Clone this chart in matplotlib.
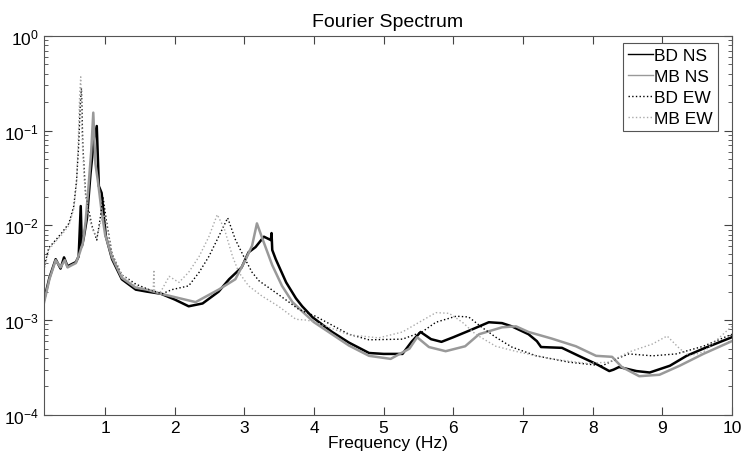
import numpy as np
import matplotlib
matplotlib.use('Agg')
import matplotlib.pyplot as plt
from matplotlib.ticker import LogLocator, FixedLocator

plt.rcParams['font.family'] = ['Liberation Sans', 'DejaVu Sans']

# values
f_bd_ns = [0.12, 0.2, 0.29, 0.36, 0.41, 0.46, 0.52, 0.58, 0.62, 0.65, 0.665, 0.69, 0.74, 0.79,
           0.84, 0.88, 0.91, 0.95, 1.01, 1.1, 1.24, 1.44, 1.6, 1.8, 2.0, 2.2, 2.4, 2.63, 2.78,
           2.96, 3.06, 3.16, 3.28, 3.38, 3.39, 3.4, 3.45, 3.6, 3.74, 3.83, 3.98, 4.26, 4.5,
           4.79, 5.0, 5.27, 5.4, 5.53, 5.68, 5.83, 6.0, 6.22, 6.51, 6.7, 6.84, 7.08, 7.2, 7.26,
           7.56, 7.8, 8.05, 8.24, 8.3, 8.38, 8.63, 8.82, 9.11, 9.35, 9.59, 10.0]
v_bd_ns = [1.6e-3, 2.8e-3, 4.4e-3, 3.5e-3, 4.6e-3, 3.7e-3, 3.9e-3, 4.1e-3, 4.7e-3, 1.6e-2,
           6e-3, 7.2e-3, 1.2e-2, 3.5e-2, 8e-2, 0.112, 2.6e-2, 2.2e-2, 7.7e-3, 4.4e-3, 2.7e-3,
           2.1e-3, 2.0e-3, 1.9e-3, 1.65e-3, 1.4e-3, 1.5e-3, 2.0e-3, 2.7e-3, 3.6e-3, 5.2e-3,
           5.9e-3, 7.6e-3, 7.0e-3, 8.3e-3, 5.5e-3, 4.4e-3, 2.5e-3, 1.7e-3, 1.4e-3, 1.07e-3,
           7.5e-4, 5.8e-4, 4.5e-4, 4.4e-4, 4.4e-4, 5.9e-4, 7.5e-4, 6.3e-4, 5.9e-4, 6.6e-4,
           7.7e-4, 9.5e-4, 9.3e-4, 8.6e-4, 7.1e-4, 6e-4, 5.2e-4, 5.1e-4, 4.2e-4, 3.45e-4,
           2.9e-4, 3.0e-4, 3.2e-4, 2.9e-4, 2.8e-4, 3.3e-4, 4.2e-4, 5e-4, 6.6e-4]

f_mb_ns = [0.12, 0.2, 0.29, 0.36, 0.42, 0.46, 0.52, 0.58, 0.63, 0.68, 0.72, 0.76, 0.8, 0.83,
           0.86, 0.9, 0.95, 1.0, 1.1, 1.24, 1.44, 1.6, 1.8, 2.0, 2.3, 2.63, 2.87, 3.02, 3.11,
           3.18, 3.26, 3.4, 3.54, 3.69, 3.85, 4.0, 4.5, 4.79, 5.1, 5.37, 5.48, 5.65, 5.89, 6.17,
           6.37, 6.7, 6.9, 7.08, 7.41, 7.76, 8.05, 8.28, 8.42, 8.67, 8.96, 9.25, 9.59, 10.0]
v_mb_ns = [1.5e-3, 2.7e-3, 4.3e-3, 3.6e-3, 4.3e-3, 3.6e-3, 3.8e-3, 4e-3, 5e-3, 6.5e-3, 1.1e-2,
           2.5e-2, 6e-2, 0.155, 4.5e-2, 2.8e-2, 1.4e-2, 8e-3, 4.6e-3, 2.8e-3, 2.2e-3, 2.1e-3,
           1.9e-3, 1.75e-3, 1.55e-3, 2.1e-3, 2.7e-3, 4.4e-3, 6.1e-3, 1.05e-2, 7.2e-3, 3.8e-3,
           2.3e-3, 1.55e-3, 1.2e-3, 9.5e-4, 5.4e-4, 4.2e-4, 3.9e-4, 5e-4, 6.6e-4, 5.2e-4,
           4.7e-4, 5.3e-4, 7.1e-4, 8.4e-4, 8.6e-4, 7.5e-4, 6.4e-4, 5.3e-4, 4.2e-4, 4.1e-4,
           3.2e-4, 2.56e-4, 2.65e-4, 3.3e-4, 4.4e-4, 6e-4]

f_bd_ew = [0.12, 0.19, 0.29, 0.38, 0.48, 0.55, 0.59, 0.62, 0.645, 0.66, 0.68, 0.72, 0.81, 0.88,
           0.93, 0.97, 1.02, 1.1, 1.24, 1.34, 1.44, 1.63, 1.82, 1.96, 2.2, 2.35, 2.49, 2.63,
           2.76, 2.87, 2.99, 3.11, 3.21, 3.39, 3.64, 3.78, 4.02, 4.5, 4.79, 5.27, 5.55, 5.75,
           6.04, 6.22, 6.41, 6.61, 6.84, 7.19, 7.66, 8.14, 8.34, 8.52, 8.86, 9.2, 9.59, 10.0]
v_bd_ew = [3.5e-3, 5.8e-3, 7e-3, 8.4e-3, 1.05e-2, 1.6e-2, 3.0e-2, 7e-2, 0.2, 0.28, 7e-2,
           2.1e-2, 1.0e-2, 7e-3, 1.2e-2, 2.0e-2, 1.1e-2, 5e-3, 3e-3, 2.7e-3, 2.4e-3, 2.1e-3,
           1.9e-3, 2.1e-3, 2.3e-3, 3.2e-3, 4.7e-3, 7.6e-3, 1.2e-2, 7.1e-3, 4.7e-3, 3.2e-3,
           2.6e-3, 2.1e-3, 1.55e-3, 1.3e-3, 1.1e-3, 7.1e-4, 6.2e-4, 6.3e-4, 7.5e-4, 9.5e-4,
           1.1e-3, 1.08e-3, 8.4e-4, 6.6e-4, 5.2e-4, 4.2e-4, 3.6e-4, 3.3e-4, 3.9e-4, 4.4e-4,
           4.2e-4, 4.4e-4, 5.3e-4, 7.1e-4]

f_mb_ew = [0.12, 0.19, 0.29, 0.38, 0.48, 0.55, 0.59, 0.615, 0.635, 0.65, 0.665, 0.7, 0.76,
           0.82, 0.88, 0.94, 0.99, 1.05, 1.1, 1.24, 1.44, 1.6, 1.69, 1.70, 1.71, 1.8, 1.92,
           2.06, 2.2, 2.35, 2.49, 2.61, 2.71, 2.83, 2.92, 3.06, 3.25, 3.49, 3.74, 3.9, 4.02,
           4.5, 4.93, 5.27, 5.51, 5.75, 5.94, 6.13, 6.32, 6.61, 6.94, 7.41, 7.9, 8.24, 8.52,
           8.86, 9.07, 9.25, 9.39, 9.59, 10.0]
v_mb_ew = [3.3e-3, 5.5e-3, 6.8e-3, 8e-3, 1.0e-2, 1.5e-2, 2.8e-2, 8e-2, 0.25, 0.37, 0.1, 3e-2,
           1.3e-2, 9e-3, 7.5e-3, 1.1e-2, 1.3e-2, 8e-3, 5e-3, 3e-3, 2.3e-3, 2.1e-3, 2.0e-3,
           3.4e-3, 2.0e-3, 2.0e-3, 2.9e-3, 2.5e-3, 3.2e-3, 4.7e-3, 7.6e-3, 1.3e-2, 9.3e-3,
           4.7e-3, 3.2e-3, 2.3e-3, 1.8e-3, 1.4e-3, 1.02e-3, 1.0e-3, 9.5e-4, 7e-4, 6.5e-4,
           7.5e-4, 9.5e-4, 1.2e-3, 1.18e-3, 9.5e-4, 7.1e-4, 5.3e-4, 4.6e-4, 3.9e-4, 3.5e-4,
           3.6e-4, 4.6e-4, 5.6e-4, 6.8e-4, 5e-4, 4.2e-4, 4.6e-4, 8.6e-4]

labels = ['BD NS', 'MB NS', 'BD EW', 'MB EW']
xticks = [1, 2, 3, 4, 5, 6, 7, 8, 9, 10]

fig = plt.figure(figsize=(7.43, 4.56), dpi=100)
ax = fig.add_axes([0.059, 0.088, 0.926, 0.831])

ax.semilogy(f_bd_ns, v_bd_ns, color='black', lw=1.8, label=labels[0])
ax.semilogy(f_mb_ns, v_mb_ns, color='#999999', lw=1.8, label=labels[1])
ax.semilogy(f_bd_ew, v_bd_ew, color='black', lw=1.0, ls=':', label=labels[2])
ax.semilogy(f_mb_ew, v_mb_ew, color='#aaaaaa', lw=1.0, ls=':', label=labels[3])

ax.set_xlim(0.12, 10)
ax.set_ylim(1e-4, 1)
ax.xaxis.set_major_locator(FixedLocator(xticks))
ax.set_xticklabels([str(t) for t in xticks])
ax.yaxis.set_major_locator(LogLocator(base=10, numticks=10))
ax.yaxis.set_minor_locator(LogLocator(base=10, subs=np.arange(2, 10), numticks=10))
ax.tick_params(which='both', direction='in', top=True, right=True, labelsize=12.5,
               colors='#444444', labelcolor='black')
ax.tick_params(which='major', length=6)
ax.tick_params(which='minor', length=3)
ax.tick_params(axis='x', which='minor', top=False, bottom=False)
for s in ax.spines.values():
    s.set_color('#555555')
    s.set_linewidth(0.8)

ax.set_title('Fourier Spectrum', fontsize=14, pad=7)
ax.set_xlabel('Frequency (Hz)', fontsize=12.5, labelpad=0)

leg = ax.legend(loc='upper right', bbox_to_anchor=(0.98, 0.981), fontsize=12.5,
                fancybox=False, edgecolor='#555555', framealpha=1, handlelength=1.4,
                handletextpad=0.1, borderpad=0.3, labelspacing=0.32, borderaxespad=0)
leg.get_frame().set_linewidth(0.8)
for ln in leg.get_lines():
    ln.set_linewidth(1.0)

plt.savefig('out.png', dpi=100)
